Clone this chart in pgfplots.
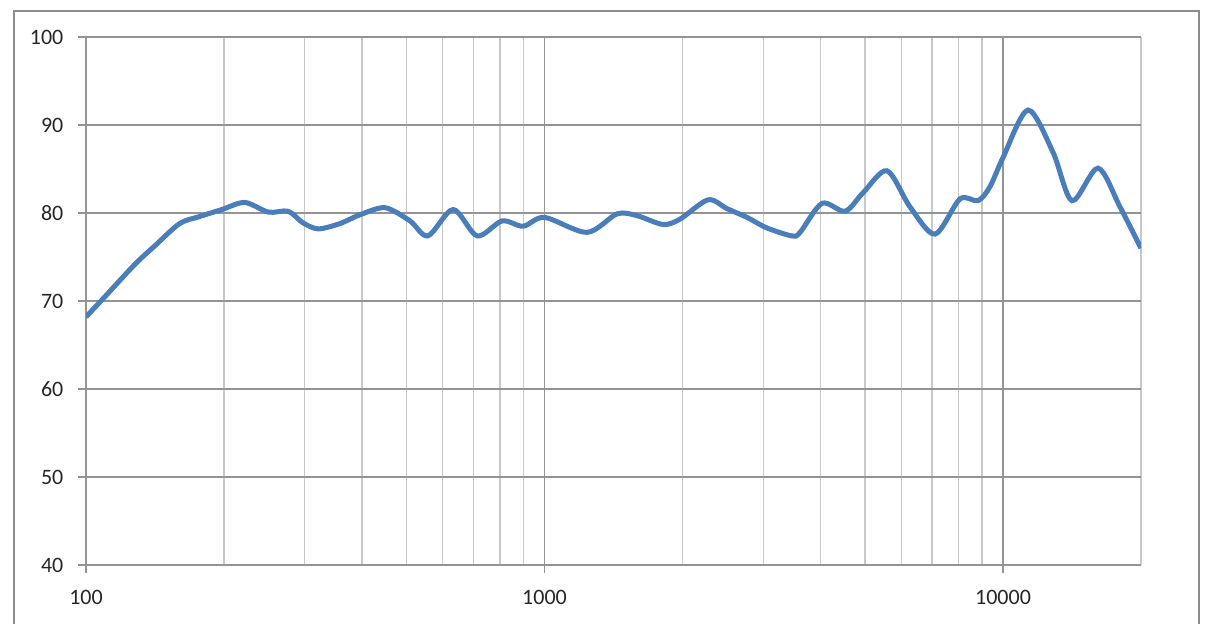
\documentclass[border=0pt]{standalone}
\usepackage{pgfplots}
\pgfplotsset{compat=1.18}
\usepackage{fontspec}
\setmainfont{Carlito}
\definecolor{lineblue}{RGB}{74,126,187}
\definecolor{majgrid}{RGB}{148,148,148}
\definecolor{mingrid}{RGB}{200,200,200}

\begin{document}
\begin{tikzpicture}
\path[use as bounding box] (-43pt,-29pt) rectangle (560pt,282.5pt);
% chart area border
\draw[color=gray!90, line width=0.8pt] (-36pt,-40pt) -- (-36pt,277pt) -- (556.5pt,277pt) -- (556.5pt,-40pt);
\begin{axis}[
  at={(0,0)}, anchor=south west,
  scale only axis, width=527.5pt, height=264pt,
  xmode=log,
  xmin=100, xmax=20000, ymin=40, ymax=100,
  ytick={40,50,60,70,80,90,100},
  xtick={100,1000,10000},
  xticklabels={100,1000,10000},
  minor xtick={200,300,400,500,600,700,800,900,2000,3000,4000,5000,6000,7000,8000,9000,20000},
  grid=both,
  major grid style={majgrid, line width=0.7pt},
  minor grid style={mingrid, line width=0.7pt},
  axis lines=left,
  axis line style={-, majgrid, line width=0.7pt},
  tick style={majgrid, line width=0.7pt},
  tick align=outside,
  major tick length=4pt,
  minor tick length=0pt,
  ticklabel style={font=\fontsize{11}{13}\selectfont, color=black!85},
  /pgf/number format/assume math mode=true,
  yticklabel style={xshift=-3.8pt},
  xticklabel style={yshift=-5pt},
]
\addplot[lineblue, line width=2.5pt, smooth, tension=0.5] coordinates {
(100,68.2)(110,70.5)(128,74.2)(141.5,76.3)(160,78.8)(177,79.6)(198,80.4)(222,81.2)
(250,80.1)(276,80.2)(297,78.9)(321,78.2)(358,78.8)(396,79.8)(449,80.6)(509,79.1)
(557,77.4)(632,80.4)(713,77.4)(808,79.1)(898,78.5)(1000,79.5)(1238,77.8)(1439,79.9)
(1591,79.7)(1813,78.7)(1975,79.3)(2273,81.5)(2500,80.5)(2765,79.5)(3057,78.3)
(3465,77.4)(3609,77.8)(4030,81.1)(4524,80.2)(4952,82.3)(5585,84.8)(6269,80.7)
(7107,77.6)(8056,81.6)(8820,81.4)(9368,83.0)(10000,86.3)(11338,91.7)(12855,86.9)
(14143,81.4)(16118,85.1)(17995,80.7)(20000,76.0)
};
\end{axis}
\end{tikzpicture}
\end{document}
